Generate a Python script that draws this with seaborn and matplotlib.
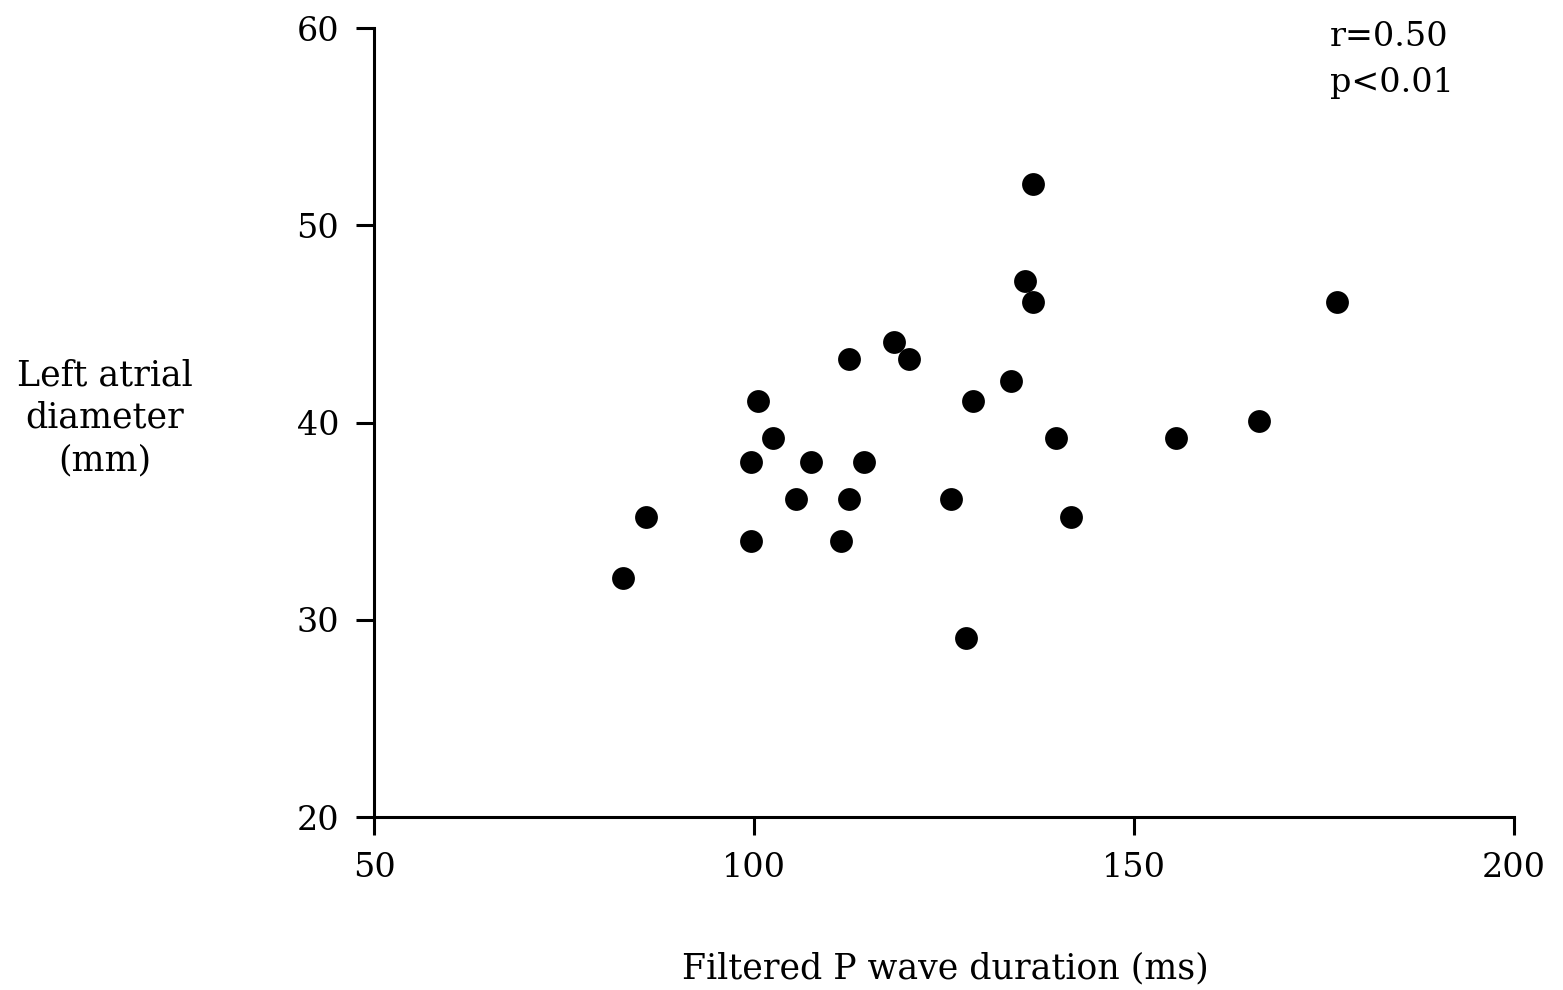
import numpy as np
import matplotlib
matplotlib.use("Agg")
import matplotlib.pyplot as plt
import pandas as pd
import seaborn as sns

# Filtered P wave duration (ms) vs left atrial diameter (mm)
p_wave = [82.8, 85.8, 99.6, 99.6, 100.5, 102.5, 105.5, 107.5, 111.4, 112.5,
          112.5, 114.5, 118.4, 120.4, 125.9, 127.9, 128.8, 133.8, 135.7, 136.7,
          136.7, 139.7, 141.7, 155.5, 166.4, 176.7]
la_diam = [32.1, 35.2, 38.0, 34.0, 41.1, 39.2, 36.1, 38.0, 34.0, 43.2,
           36.1, 38.0, 44.1, 43.2, 36.1, 29.1, 41.1, 42.1, 47.2, 52.1,
           46.1, 39.2, 35.2, 39.2, 40.1, 46.1]
x_ticks = [50, 100, 150, 200]
y_ticks = [20, 30, 40, 50, 60]

df = pd.DataFrame({"pwd": p_wave, "lad": la_diam})

sns.set_style("white")
plt.rcParams['font.family'] = ['DejaVu Serif', 'DejaVu Sans']
plt.rcParams['text.color'] = 'black'
plt.rcParams['xtick.color'] = 'black'
plt.rcParams['ytick.color'] = 'black'

fig = plt.figure(figsize=(15.63, 9.9), dpi=100)
ax = fig.add_axes([0.2393, 0.1747, 0.7294, 0.797])

sns.scatterplot(data=df, x="pwd", y="lad", ax=ax, color="black", s=270,
                edgecolor="black", linewidth=0)

ax.set_xlim(50, 200)
ax.set_ylim(20, 60)
ax.set_xticks(x_ticks)
ax.set_yticks(y_ticks)
ax.set_xlabel("")
ax.set_ylabel("")
for side in ["top", "right"]:
    ax.spines[side].set_visible(False)
for side in ["left", "bottom"]:
    ax.spines[side].set_linewidth(2.2)
    ax.spines[side].set_color("black")
ax.tick_params(axis="both", direction="out", length=13, width=2.2,
               labelsize=24, pad=12, color="black", labelcolor="black",
               left=True, bottom=True)

fig.text(0.067, 0.578, "Left atrial\ndiameter\n(mm)",
         ha="center", va="center", fontsize=25, linespacing=1.32)
fig.text(0.605, 0.022, "Filtered P wave duration (ms)",
         ha="center", va="center", fontsize=25)
fig.text(0.851, 0.979, "r=0.50\np<0.01",
         ha="left", va="top", fontsize=24, linespacing=1.55)

fig.savefig("out.png", dpi=100, facecolor="white")
